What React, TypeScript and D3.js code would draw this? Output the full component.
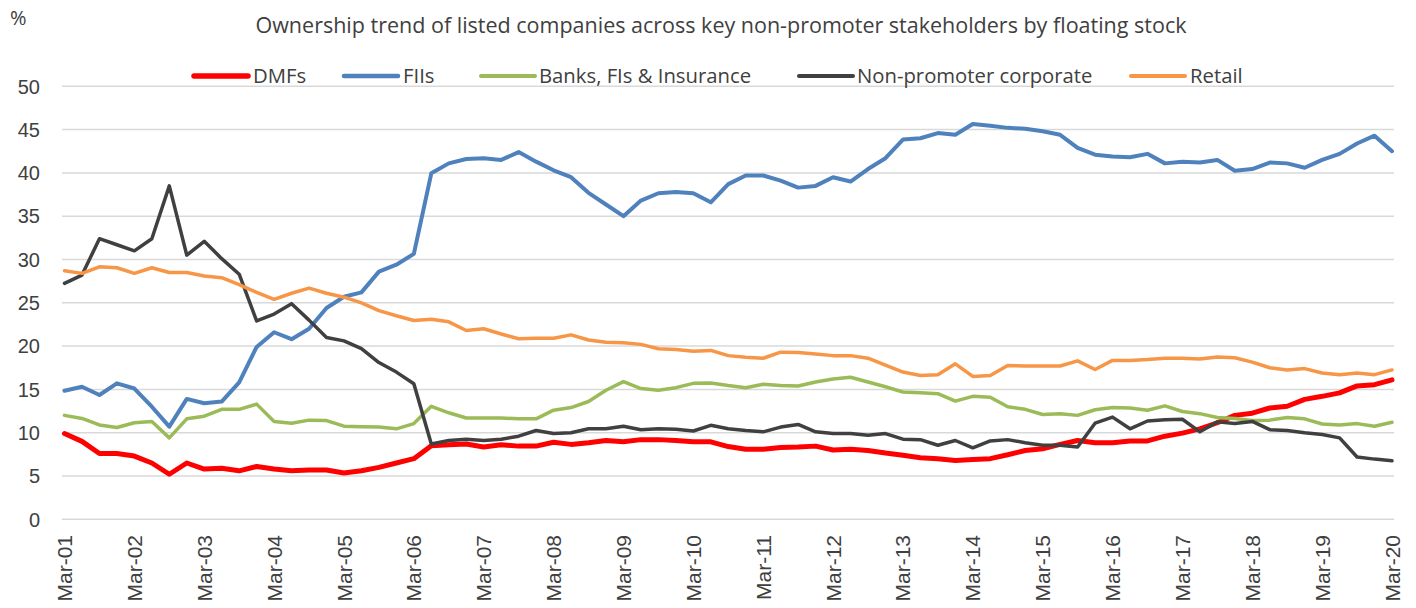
import React from "react";
import * as d3 from "d3";

const yearLabels = ["Mar-01","Mar-02","Mar-03","Mar-04","Mar-05","Mar-06","Mar-07","Mar-08","Mar-09","Mar-10","Mar-11","Mar-12","Mar-13","Mar-14","Mar-15","Mar-16","Mar-17","Mar-18","Mar-19","Mar-20"];
const yTicks = [0, 5, 10, 15, 20, 25, 30, 35, 40, 45, 50];
const seriesNames = ["DMFs", "FIIs", "Banks, FIs & Insurance", "Non-promoter corporate", "Retail"];
const seriesColors = ["#FF0000", "#4F81BD", "#9BBB59", "#404040", "#F79646"];

const dmfs = [9.9, 9.0, 7.6, 7.6, 7.3, 6.5, 5.2, 6.5, 5.8, 5.9, 5.6, 6.1, 5.8, 5.6, 5.7, 5.7,
  5.35, 5.6, 6.0, 6.5, 7.0, 8.5, 8.6, 8.7, 8.35, 8.6, 8.45, 8.45, 8.9, 8.65, 8.85,
  9.1, 8.95, 9.2, 9.2, 9.1, 8.95, 8.95, 8.4, 8.1, 8.1, 8.3, 8.35, 8.45, 8.0, 8.1,
  7.95, 7.65, 7.4, 7.1, 7.0, 6.8, 6.9, 7.0, 7.45, 7.95, 8.15, 8.65, 9.1, 8.85, 8.85,
  9.05, 9.05, 9.6, 9.95, 10.45, 11.15, 12.0, 12.25, 12.85, 13.05, 13.85, 14.2, 14.6, 15.4, 15.55, 16.1];
const fiis = [14.85, 15.3, 14.35, 15.7, 15.1, 13.0, 10.7, 13.9, 13.4, 13.6, 15.8, 19.9, 21.6, 20.8, 22.0, 24.4,
  25.7, 26.2, 28.6, 29.4, 30.65, 39.95, 41.1, 41.6, 41.7, 41.5, 42.4, 41.3, 40.3, 39.5, 37.7,
  36.35, 35.0, 36.8, 37.65, 37.8, 37.65, 36.6, 38.7, 39.7, 39.7, 39.1, 38.3, 38.5, 39.5, 39.0,
  40.45, 41.7, 43.85, 44.0, 44.6, 44.4, 45.65, 45.45, 45.2, 45.1, 44.8, 44.4, 42.9, 42.1, 41.9,
  41.8, 42.2, 41.1, 41.3, 41.2, 41.5, 40.25, 40.45, 41.2, 41.1, 40.6, 41.5, 42.2, 43.4, 44.3, 42.5];
const banks = [12.0, 11.65, 10.9, 10.6, 11.15, 11.3, 9.4, 11.6, 11.9, 12.7, 12.7, 13.3, 11.3, 11.1, 11.45, 11.4,
  10.75, 10.7, 10.65, 10.45, 11.05, 13.05, 12.3, 11.7, 11.7, 11.7, 11.6, 11.6, 12.6, 12.9, 13.6,
  14.9, 15.9, 15.1, 14.9, 15.2, 15.7, 15.75, 15.45, 15.2, 15.6, 15.45, 15.4, 15.85, 16.2, 16.4,
  15.85, 15.3, 14.7, 14.6, 14.5, 13.65, 14.2, 14.1, 13.0, 12.7, 12.1, 12.2, 12.0, 12.65, 12.9,
  12.85, 12.6, 13.1, 12.45, 12.2, 11.75, 11.65, 11.4, 11.45, 11.75, 11.6, 11.0, 10.9, 11.05, 10.75, 11.2];
const corporate = [27.25, 28.2, 32.4, 31.7, 31.0, 32.4, 38.5, 30.5, 32.1, 30.1, 28.3, 22.9, 23.7, 24.9, 23.0, 21.0,
  20.6, 19.7, 18.1, 17.0, 15.65, 8.7, 9.1, 9.25, 9.1, 9.25, 9.6, 10.25, 9.9, 10.0, 10.45,
  10.45, 10.75, 10.35, 10.45, 10.4, 10.2, 10.85, 10.45, 10.25, 10.1, 10.65, 10.95, 10.1, 9.9, 9.9,
  9.7, 9.9, 9.25, 9.2, 8.55, 9.1, 8.25, 9.05, 9.2, 8.85, 8.55, 8.55, 8.35, 11.1, 11.8,
  10.45, 11.35, 11.5, 11.55, 10.1, 11.25, 11.05, 11.3, 10.35, 10.25, 10.0, 9.8, 9.4, 7.2, 6.95, 6.75];
const retail = [28.7, 28.4, 29.15, 29.05, 28.4, 29.05, 28.5, 28.5, 28.1, 27.9, 27.1, 26.2, 25.4, 26.1, 26.7, 26.1,
  25.65, 25.0, 24.1, 23.5, 22.95, 23.1, 22.8, 21.8, 22.0, 21.4, 20.85, 20.9, 20.9, 21.3, 20.7,
  20.45, 20.4, 20.2, 19.7, 19.6, 19.4, 19.5, 18.9, 18.7, 18.6, 19.3, 19.25, 19.1, 18.9, 18.9,
  18.6, 17.8, 17.0, 16.6, 16.7, 17.95, 16.5, 16.6, 17.75, 17.7, 17.7, 17.7, 18.3, 17.3, 18.35,
  18.35, 18.45, 18.6, 18.6, 18.5, 18.75, 18.65, 18.15, 17.5, 17.25, 17.4, 16.9, 16.7, 16.9, 16.7, 17.25];

const seriesData = [dmfs, fiis, banks, corporate, retail];
const seriesWidths = [5, 4, 3.5, 3.5, 3.5];

const W = 1416;
const H = 608;
const FONT = "'Liberation Sans', Arial, sans-serif";
const TFONT = "'Open Sans', 'Liberation Sans', sans-serif";

export default function App() {
  const n = dmfs.length;
  const x = d3.scaleLinear().domain([0, n - 1]).range([64.5, 1392]);
  const y = d3.scaleLinear().domain([0, 50]).range([519.3, 86.3]);
  const line = d3.line<number>().x((_, i) => x(i)).y((d) => y(d));

  const legendItems = [
    { lx: 194, tx: 253 },
    { lx: 344, tx: 403 },
    { lx: 481, tx: 539 },
    { lx: 799, tx: 857 },
    { lx: 1131, tx: 1190 },
  ];

  return (
    <div style={{ position: "absolute", left: 0, top: 0 }}>
      <svg width={W} height={H} style={{ display: "block", background: "#fff" }} fontFamily={FONT}>
        <text x={10} y={25} fontSize={20} fill="#404040" fontFamily={TFONT}>%</text>
        <text x={721} y={33} fontSize={21.5} fill="#404040" textAnchor="middle" fontFamily={TFONT}>
          Ownership trend of listed companies across key non-promoter stakeholders by floating stock
        </text>
        {yTicks.map((t) => (
          <g key={t}>
            <line x1={62} x2={1394} y1={y(t)} y2={y(t)} stroke="#D9D9D9" strokeWidth={1.5} />
            <text x={40} y={y(t)} dy="0.36em" textAnchor="end" fontSize={20} fill="#404040">{t}</text>
          </g>
        ))}
        {yearLabels.map((lab, k) => {
          const px = x(k * 4);
          return (
            <text key={lab} transform={`translate(${px},535) rotate(-90)`} textAnchor="end" dy="0.36em" fontSize={21} fill="#404040">
              {lab}
            </text>
          );
        })}
        {seriesData.map((s, k) => (
          <path key={k} d={line(s) || ""} fill="none" stroke={seriesColors[k]} strokeWidth={seriesWidths[k]} strokeLinejoin="round" strokeLinecap="round" />
        ))}
        {legendItems.map((it, k) => (
          <g key={k}>
            <line x1={it.lx} x2={it.lx + 54} y1={76} y2={76} stroke={seriesColors[k]} strokeWidth={seriesWidths[k] + 0.5} strokeLinecap="round" />
            <text x={it.tx} y={76} dy="0.36em" fontSize={20.3} fill="#404040" fontFamily={TFONT}>{seriesNames[k]}</text>
          </g>
        ))}
      </svg>
    </div>
  );
}
